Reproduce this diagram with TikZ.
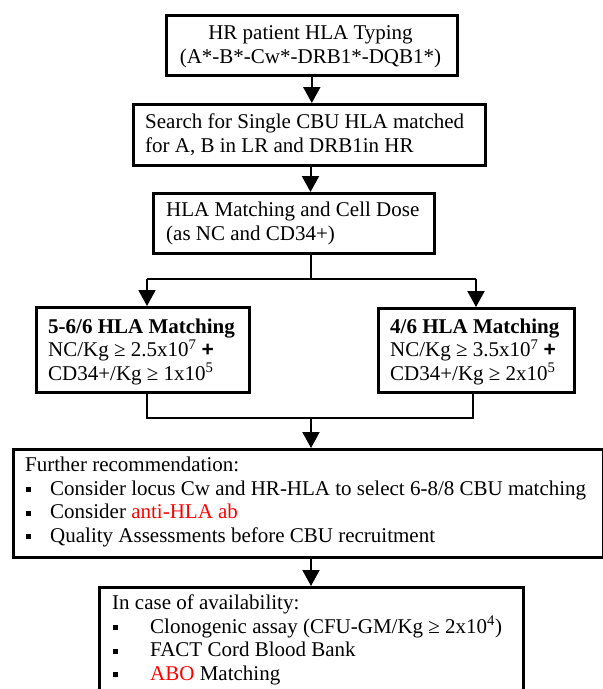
\documentclass[tikz,border=0pt]{standalone}
\usepackage{fontspec}
\setmainfont{Liberation Serif}
\newfontfamily\plusfont{Liberation Sans}
\usetikzlibrary{arrows.meta}
\newcommand{\sqb}{\rule[3pt]{5pt}{5pt}}
\newcommand{\bplus}{{\plusfont\bfseries +}}
\begin{document}
\begin{tikzpicture}[x=1pt,y=-1pt,
  box/.style={draw, line width=2.6pt, inner sep=0pt, anchor=north west},
  txt/.style={inner sep=0pt, align=left, font=\fontsize{21}{23.4}\selectfont},
  conn/.style={line width=2pt},
  arr/.style={conn, -{Triangle[length=16pt,width=17pt]}}]
\useasboundingbox (0,0) rectangle (603,689);
\clip (0,0) rectangle (603,689);

% boxes
\node[box, minimum width=291pt, minimum height=60pt] (b1) at (165,14) {};
\node[box, minimum width=352pt, minimum height=61pt] (b2) at (132,103) {};
\node[box, minimum width=281pt, minimum height=60pt] (b3) at (152,192) {};
\node[box, minimum width=213pt, minimum height=85pt] (b4) at (35,306) {};
\node[box, minimum width=196pt, minimum height=84pt] (b5) at (377,307) {};
\node[box, minimum width=589.5pt, minimum height=108pt] (b6) at (12,448) {};
\node[box, minimum width=424pt, minimum height=120pt] (b7) at (98,586) {};

% texts (anchor base = baseline of the last line)
\node[txt, align=center, anchor=base] (t1) at (310.5,63)
  {HR patient HLA Typing\\(A*-B*-Cw*-DRB1*-DQB1*)};
\node[txt, anchor=base west] (t2) at (145,152)
  {Search for Single CBU HLA matched\\for A, B in LR and DRB1in HR};
\node[txt, anchor=base west] (t3) at (166,240)
  {HLA Matching and Cell Dose\\(as NC and CD34+)};
\node[txt, anchor=base west] (t4) at (48,380)
  {\textbf{5-6/6 HLA Matching}\\NC/Kg ≥ 2.5x10\textsuperscript{7} \bplus\\CD34+/Kg ≥ 1x10\textsuperscript{5}};
\node[txt, anchor=base west] (t5) at (390,380)
  {\textbf{4/6 HLA Matching}\\NC/Kg ≥ 3.5x10\textsuperscript{7} \bplus\\CD34+/Kg ≥ 2x10\textsuperscript{5}};
\node[txt, anchor=base west] (t6) at (25,542)
  {Further recommendation:\\
   \makebox[25pt][l]{\hspace{0.5pt}\sqb}Consider locus Cw and HR-HLA to select 6-8/8 CBU matching\\
   \makebox[25pt][l]{\hspace{0.5pt}\sqb}Consider \textcolor{red}{anti-HLA ab}\\
   \makebox[25pt][l]{\hspace{0.5pt}\sqb}Quality Assessments before CBU recruitment};
\node[txt, anchor=base west] (t7) at (112,680)
  {In case of availability:\\
   \makebox[38pt][l]{\hspace{0.5pt}\sqb}Clonogenic assay (CFU-GM/Kg ≥ 2x10\textsuperscript{4})\\
   \makebox[38pt][l]{\hspace{0.5pt}\sqb}FACT Cord Blood Bank\\
   \makebox[38pt][l]{\hspace{0.5pt}\sqb}\textcolor{red}{ABO} Matching};

% connectors
\coordinate (sp) at (310.5,0);
\coordinate (jt) at (311,279);
\coordinate (jb) at (311,418);
\coordinate (xl) at (147,0);
\coordinate (xr) at (476,0);
\coordinate (xr2) at (473,0);

\draw[arr] (b1.south) -- (b1.south |- b2.north);
\draw[arr] (b2.south -| sp) -- (b3.north -| sp);
\draw[conn] (b3.south -| jt) -- (jt);
\draw[conn] (jt -| xl) -- (jt -| xr);
\draw[arr] (jt -| xl) -- (b4.north -| xl);
\draw[arr] (jt -| xr) -- (b5.north -| xr);
\draw[conn] (b4.south -| xl) |- (jb -| xr2) -- (b5.south -| xr2);
\draw[arr] (jb) -- (b6.north -| jb);
\draw[arr] (b6.south -| jb) -- (b7.north -| jb);
\end{tikzpicture}
\end{document}
